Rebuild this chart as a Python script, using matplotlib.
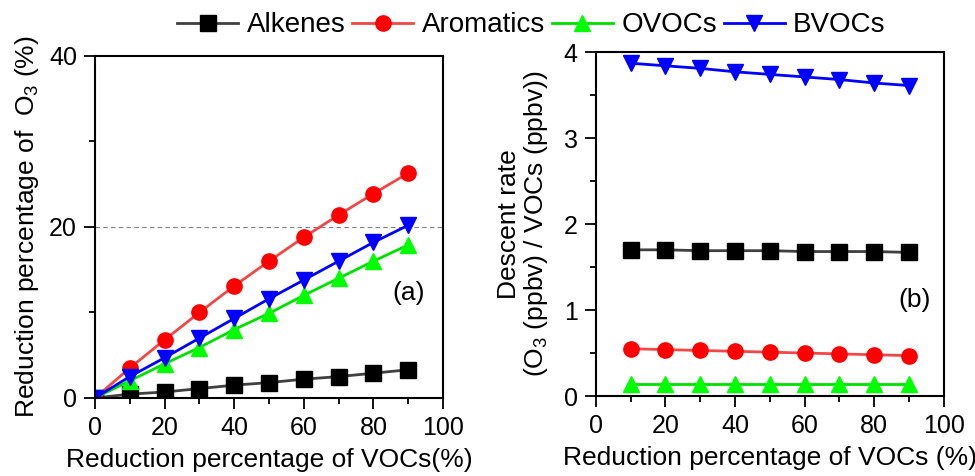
import matplotlib
matplotlib.use('Agg')
import matplotlib.pyplot as plt
from matplotlib.ticker import MultipleLocator

plt.rcParams['font.family'] = ['Liberation Sans', 'DejaVu Sans']

# ___ DATA ___
x_a = [0, 10, 20, 30, 40, 50, 60, 70, 80, 90]
alkenes_a = [0, 0.45, 0.7, 1.1, 1.5, 1.8, 2.2, 2.5, 2.9, 3.3]
aromatics_a = [0, 3.5, 6.8, 10.0, 13.1, 16.0, 18.8, 21.4, 23.9, 26.3]
ovocs_a = [0, 2.0, 4.0, 5.9, 8.0, 9.9, 12.0, 14.0, 16.0, 17.9]
bvocs_a = [0, 2.5, 4.7, 7.0, 9.3, 11.6, 13.8, 16.0, 18.2, 20.2]

x_b = [10, 20, 30, 40, 50, 60, 70, 80, 90]
alkenes_b = [1.70, 1.70, 1.69, 1.69, 1.69, 1.68, 1.68, 1.68, 1.67]
aromatics_b = [0.55, 0.54, 0.53, 0.52, 0.51, 0.50, 0.49, 0.48, 0.47]
ovocs_b = [0.14, 0.14, 0.14, 0.14, 0.14, 0.14, 0.14, 0.14, 0.14]
bvocs_b = [3.87, 3.84, 3.81, 3.77, 3.74, 3.71, 3.68, 3.64, 3.61]

names = ['Alkenes', 'Aromatics', 'OVOCs', 'BVOCs']
styles = [
    dict(color='#404040', marker='s', mfc='black', mec='black'),
    dict(color='#f04848', marker='o', mfc='red', mec='red'),
    dict(color='#00e000', marker='^', mfc='#00ff00', mec='#00ff00'),
    dict(color='#0000ff', marker='v', mfc='#0000ff', mec='#0000ff'),
]

fig = plt.figure(figsize=(9.75, 4.76), dpi=100)
ax1 = fig.add_axes([0.0974, 0.1639, 0.357, 0.7185])
ax2 = fig.add_axes([0.611, 0.168, 0.357, 0.7227])

# ___ PANEL (a) ___
for ys, name, st in zip([alkenes_a, aromatics_a, ovocs_a, bvocs_a], names, styles):
    ax1.plot(x_a, ys, lw=2, ms=11, label=name, **st)
ax1.axhline(20, color='grey', lw=0.8, ls=(0, (4, 3)), zorder=0)
ax1.set_xlim(0, 100)
ax1.set_ylim(0, 40)
ax1.xaxis.set_major_locator(MultipleLocator(20))
ax1.xaxis.set_minor_locator(MultipleLocator(10))
ax1.yaxis.set_major_locator(MultipleLocator(20))
ax1.yaxis.set_minor_locator(MultipleLocator(10))
ax1.set_xlabel('Reduction percentage of VOCs(%)', fontsize=19, labelpad=6)
ax1.set_ylabel('Reduction percentage of  O$_\\mathregular{3}$ (%)', fontsize=19, labelpad=6)
ax1.text(90, 12.3, '(a)', fontsize=19, ha='center', va='center')

# ___ PANEL (b) ___
for ys, name, st in zip([alkenes_b, aromatics_b, ovocs_b, bvocs_b], names, styles):
    ax2.plot(x_b, ys, lw=2, ms=11, **st)
ax2.set_xlim(0, 100)
ax2.set_ylim(0, 4)
ax2.xaxis.set_major_locator(MultipleLocator(20))
ax2.xaxis.set_minor_locator(MultipleLocator(10))
ax2.yaxis.set_major_locator(MultipleLocator(1))
ax2.yaxis.set_minor_locator(MultipleLocator(0.5))
ax2.set_xlabel('Reduction percentage of VOCs (%)', fontsize=19, labelpad=6)
ax2.set_ylabel('Descent rate\n(O$_\\mathregular{3}$ (ppbv) / VOCs (ppbv))', fontsize=19, labelpad=10,
               linespacing=1.05)
ax2.text(91.7, 1.12, '(b)', fontsize=19, ha='center', va='center')

for ax in (ax1, ax2):
    for s in ax.spines.values():
        s.set_linewidth(1.5)
    ax.tick_params(which='major', direction='out', length=8, width=1.3, labelsize=18, pad=5)
    ax.tick_params(which='minor', direction='out', length=4, width=1.3)

fig.legend(loc='center', bbox_to_anchor=(0.545, 0.947), ncol=4, frameon=False,
           fontsize=20, handlelength=2.2, columnspacing=0.25, handletextpad=0.3)

fig.savefig('out.png', dpi=100)
